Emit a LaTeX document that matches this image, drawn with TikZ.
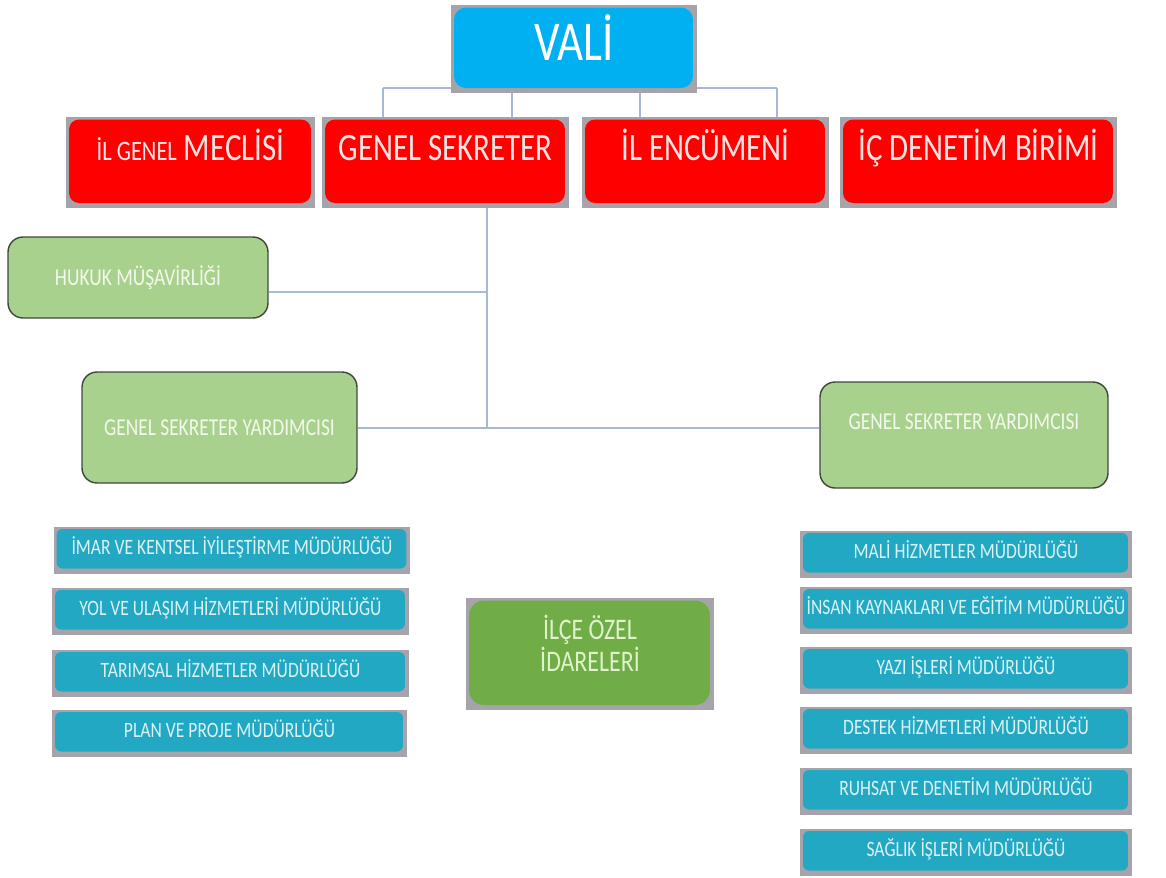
\documentclass[tikz,border=0pt]{standalone}
\usepackage{fontspec}
\setmainfont{Carlito}[FakeStretch=0.8]
\usetikzlibrary{positioning,backgrounds}
\definecolor{valiBlue}{RGB}{0,176,240}
\definecolor{meclisRed}{RGB}{255,0,0}
\definecolor{redText}{RGB}{255,228,228}
\definecolor{unitTeal}{RGB}{35,168,196}
\definecolor{tealText}{RGB}{218,243,247}
\definecolor{deputyGreen}{RGB}{169,209,142}
\definecolor{deputyEdge}{RGB}{64,72,60}
\definecolor{greenText}{RGB}{242,248,234}
\definecolor{ilceGreen}{RGB}{112,173,71}
\definecolor{ilceText}{RGB}{222,242,204}
\definecolor{shadeGray}{RGB}{166,164,170}
\definecolor{linkBlue}{RGB}{167,185,214}

\tikzset{
    framed/.style 2 args={fill=shadeGray, inner sep=0pt, path picture={
        \fill[#1, rounded corners=#2] ([shift={(0.06cm,-0.05cm)}]path picture bounding box.north west)
            rectangle ([shift={(-0.08cm,0.1cm)}]path picture bounding box.south east);}},
    redbox/.style={framed={meclisRed}{0.2cm}, text=redText, font=\fontsize{22}{26}\selectfont,
        minimum height=1.82cm, text height=0.5cm, text depth=0.58cm},
    unitbox/.style={framed={unitTeal}{0.12cm}, text=tealText, font=\fontsize{12.5}{15}\selectfont,
        minimum height=0.94cm, text height=0.28cm, text depth=0.12cm},
    deputy/.style={draw=deputyEdge, line width=0.8pt, fill=deputyGreen, rounded corners=0.3cm,
        text=greenText, font=\fontsize{13.8}{16}\selectfont, text height=0.31cm, text depth=0cm},
    link/.style={draw=linkBlue, line width=0.7pt}
}

\begin{document}
\begin{tikzpicture}[x=0.02cm, y=-0.02cm]
    \useasboundingbox (0,0) rectangle (1166,877);

    % vali and the four boards
    \node[framed={valiBlue}{0.24cm}, text=white, font=\fontsize{32}{36}\selectfont, minimum width=4.92cm,
        minimum height=1.76cm, text height=0.72cm, text depth=0.28cm] (vali) at (574,49) {VALİ};
    \node[redbox, minimum width=4.98cm] (meclis) at (190.5,162.5) {{\fontsize{16}{20}\selectfont İL GENEL} MECLİSİ};
    \node[redbox, minimum width=4.94cm] (sekreter) at (445.5,162.5) {GENEL SEKRETER};
    \node[redbox, minimum width=4.94cm] (encumen) at (705.5,162.5) {İL ENCÜMENİ};
    \node[redbox, minimum width=5.54cm] (denetim) at (978.5,162.5) {İÇ DENETİM BİRİMİ};

    % deputies
    \node[deputy, minimum width=5.2cm, minimum height=1.62cm] (hukuk) at (138,277.5) {HUKUK MÜŞAVİRLİĞİ};
    \node[deputy, minimum width=5.5cm, minimum height=2.22cm] (gsyL) at (219.5,427.5) {GENEL SEKRETER YARDIMCISI};
    \node[deputy, minimum width=5.76cm, minimum height=2.12cm, text depth=0.52cm] (gsyR) at (964,435) {GENEL SEKRETER YARDIMCISI};

    % left units
    \node[unitbox, minimum width=7.14cm] (imar) at (232,550) {İMAR VE KENTSEL İYİLEŞTİRME MÜDÜRLÜĞÜ};
    \node[unitbox, minimum width=7.14cm] (yol) at (230.5,611) {YOL VE ULAŞIM HİZMETLERİ MÜDÜRLÜĞÜ};
    \node[unitbox, minimum width=7.14cm] (tarim) at (230.5,673) {TARIMSAL HİZMETLER MÜDÜRLÜĞÜ};
    \node[unitbox, minimum width=7.1cm] (plan) at (229.5,733) {PLAN VE PROJE MÜDÜRLÜĞÜ};

    % ilce
    \node[framed={ilceGreen}{0.3cm}, text=ilceText, align=center, font=\fontsize{17}{18}\selectfont,
        minimum width=4.96cm, minimum height=2.24cm, text height=29pt, text depth=9pt] (ilce) at (590,654) {İLÇE ÖZEL\\İDARELERİ};

    % right units
    \node[unitbox, minimum width=6.64cm] (mali) at (966,554) {MALİ HİZMETLER MÜDÜRLÜĞÜ};
    \node[unitbox, minimum width=6.64cm] (insan) at (966,610) {İNSAN KAYNAKLARI VE EĞİTİM MÜDÜRLÜĞÜ};
    \node[unitbox, minimum width=6.64cm] (yazi) at (966,670) {YAZI İŞLERİ MÜDÜRLÜĞÜ};
    \node[unitbox, minimum width=6.64cm] (destek) at (966,730) {DESTEK HİZMETLERİ MÜDÜRLÜĞÜ};
    \node[unitbox, minimum width=6.64cm] (ruhsat) at (966,791) {RUHSAT VE DENETİM MÜDÜRLÜĞÜ};
    \node[unitbox, minimum width=6.64cm] (saglik) at (966,852) {SAĞLIK İŞLERİ MÜDÜRLÜĞÜ};

    % connectors
    \begin{scope}[on background layer]
        \coordinate (bus) at (574,88);
        \coordinate (hub) at (487,428);
        \draw[link] (bus -| 383,0) -- (bus -| 777,0);
        \foreach \x in {383,512} \draw[link] (bus -| \x,0) -- (sekreter.north -| \x,0);
        \foreach \x in {640,777} \draw[link] (bus -| \x,0) -- (encumen.north -| \x,0);
        \draw[link] (sekreter.south -| hub) -- (hub);
        \draw[link] (hukuk.east |- 0,292) -- (hub |- 0,292);
        \draw[link] (gsyL.east |- hub) -- (gsyR.west |- hub);
    \end{scope}
\end{tikzpicture}
\end{document}
